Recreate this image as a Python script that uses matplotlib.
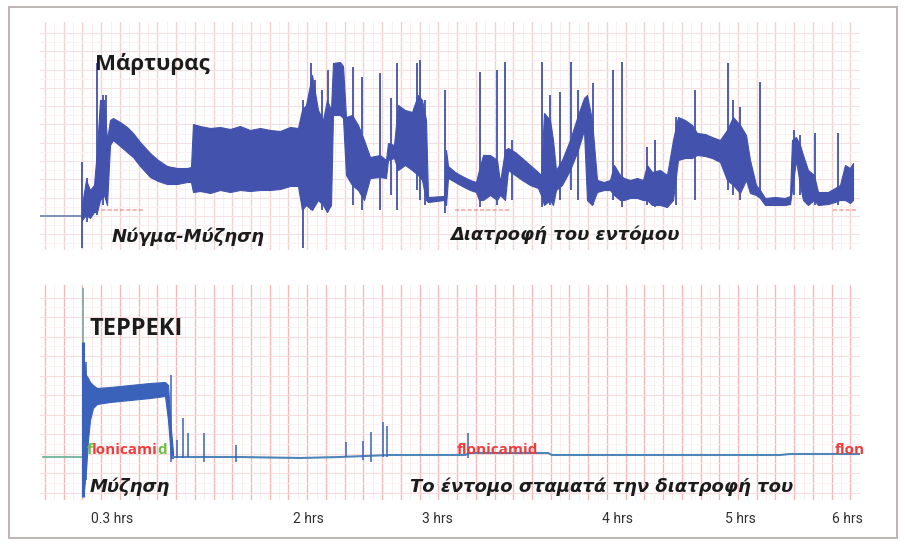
import numpy as np
import matplotlib.pyplot as plt
from matplotlib.patches import Rectangle

# EPG recordings (x = recording position, y = trace level, screen units)

# --- top trace (control insect): band envelope (x, upper, lower) ---
top_x = [82, 86, 90, 94, 97, 100, 104, 107, 110, 113, 120, 127, 133, 140, 150, 158, 167, 177, 187, 191,
         193, 200, 210, 220, 230, 240, 250, 260, 270, 280, 290, 298, 302, 306, 312, 318, 323, 327, 331,
         333, 340, 343, 346, 352, 358, 364, 370, 380, 386, 388, 394, 398, 405, 412, 418, 422, 426, 428,
         444, 446, 448, 455, 462, 470, 476, 479, 483, 490, 497, 500, 505, 508, 515, 522, 530, 538, 541,
         544, 550, 553, 556, 562, 570, 578, 584, 587, 592, 597, 604, 610, 614, 620, 624, 630, 637, 643,
         647, 652, 660, 667, 673, 678, 685, 692, 697, 705, 712, 720, 727, 733, 740, 746, 750, 756, 760,
         765, 775, 785, 790, 792, 796, 800, 803, 808, 814, 818, 828, 835, 840, 845, 850, 853]
top_hi = [205, 180, 190, 185, 150, 100, 100, 140, 120, 118, 122, 127, 133, 142, 153, 160, 166, 168, 168, 167,
          124, 126, 128, 127, 129, 126, 130, 128, 130, 131, 127, 128, 110, 105, 75, 110, 120, 100, 110,
          63, 62, 66, 117, 115, 125, 140, 157, 155, 160, 143, 145, 105, 110, 112, 95, 100, 120, 197,
          196, 150, 166, 172, 176, 180, 182, 170, 155, 155, 160, 182, 150, 148, 152, 158, 165, 172, 175,
          113, 120, 140, 170, 160, 140, 115, 98, 95, 120, 180, 182, 180, 165, 175, 178, 180, 178, 180,
          165, 172, 170, 175, 140, 117, 120, 125, 133, 134, 137, 140, 130, 117, 125, 135, 160, 185, 190,
          198, 197, 198, 196, 140, 137, 145, 155, 170, 175, 192, 192, 188, 185, 165, 168, 163]
top_lo = [220, 215, 218, 212, 212, 200, 195, 205, 145, 140, 146, 152, 157, 166, 177, 181, 184, 184, 182, 182,
          192, 191, 193, 190, 192, 190, 191, 190, 190, 189, 186, 186, 210, 205, 210, 200, 205, 212, 205,
          115, 115, 118, 175, 185, 190, 200, 178, 177, 178, 160, 158, 170, 165, 170, 175, 180, 200, 202,
          200, 205, 178, 182, 186, 190, 192, 200, 200, 195, 200, 195, 200, 170, 175, 180, 185, 188, 195,
          205, 200, 205, 190, 185, 170, 150, 130, 200, 205, 192, 190, 190, 195, 200, 200, 198, 198, 200,
          200, 205, 205, 207, 200, 160, 158, 158, 155, 156, 158, 162, 180, 185, 193, 180, 193, 195, 198,
          205, 205, 205, 204, 190, 160, 185, 200, 205, 200, 205, 204, 202, 200, 200, 203, 200]

# spikes of the top trace (x, peak, trough)
top_spike_x = [82, 87, 97, 103, 106, 303, 311, 315, 322, 328, 353, 362, 380, 391, 397, 417, 420, 425, 445,
               480, 497, 505, 512, 542, 550, 560, 571, 578, 593, 613, 622, 647, 655, 676, 695, 728, 733,
               740, 760, 794, 800, 815, 838]
top_spike_hi = [162, 178, 63, 95, 95, 100, 63, 80, 90, 70, 67, 77, 73, 98, 63, 63, 60, 100, 90,
                72, 70, 62, 140, 62, 95, 92, 62, 90, 83, 70, 62, 147, 140, 117, 90, 63, 100,
                107, 82, 130, 135, 133, 133]
top_spike_lo = [248, 222, 215, 205, 200, 248, 210, 205, 210, 212, 205, 210, 210, 195, 210, 190, 200, 205, 213,
                207, 205, 200, 200, 207, 205, 200, 190, 200, 205, 200, 207, 205, 207, 205, 200, 190, 195,
                200, 198, 195, 195, 205, 205]

top_base_x = [40, 82]
top_base_y = [216, 216]

# --- bottom trace (TEPPEKI): feeding block then flat line ---
bot_x = [84, 86, 88, 90, 93, 97, 110, 130, 150, 165, 168, 171, 173]
bot_hi = [360, 375, 378, 382, 385, 388, 387, 385, 383, 382, 385, 430, 452]
bot_lo = [490, 470, 440, 420, 408, 404, 402, 400, 398, 396, 420, 458, 458]

bot_line_x = [173, 240, 300, 340, 390, 465, 470, 548, 552, 780, 790, 863]
bot_line_y = [457, 457, 458, 457, 455, 455, 453, 453, 455, 455, 454, 454]

bot_spike_x = [86, 171, 177, 183, 188, 204, 236, 346, 363, 371, 383, 387, 468]
bot_spike_hi = [362, 375, 440, 418, 433, 433, 445, 442, 441, 432, 422, 426, 433]
bot_spike_lo = [480, 462, 458, 458, 457, 462, 462, 457, 460, 462, 457, 457, 458]

tick_pos = [112, 308, 437, 617, 740, 847]
tick_labels = ['0.3 hrs', '2 hrs', '3 hrs', '4 hrs', '5 hrs', '6 hrs']

W, H = 905, 544
fig = plt.figure(figsize=(W / 100, H / 100), dpi=100)
fig.patch.set_facecolor('white')
fig.patches.append(Rectangle((9 / W, 1 - 538 / H), 888 / W, 531 / H, transform=fig.transFigure,
                             fill=False, edgecolor='#b8b0ae', lw=1.3))

ax1 = fig.add_axes([40 / W, 1 - 250 / H, 820 / W, 228 / H])
ax2 = fig.add_axes([40 / W, 1 - 500 / H, 820 / W, 215 / H])
ax1.set_xlim(40, 860)
ax1.set_ylim(250, 22)
ax2.set_xlim(40, 860)
ax2.set_ylim(500, 285)

grid_x = 45 + 18.73 * np.arange(44)
for ax, gy, vcol, hcol in [(ax1, 33 + 18.3 * np.arange(13), '#f2d3d3', '#f4e0e0'),
                           (ax2, 298 + 19.5 * np.arange(11), '#f6b9bb', '#fadcdc')]:
    for gx in grid_x:
        ax.axvline(gx, color=vcol, lw=1.0, zorder=0)
        ax.axvline(gx + 9.36, color='#fbecec', lw=0.6, zorder=0)
    for y in gy:
        ax.axhline(y, color=hcol, lw=0.8, zorder=0)
        ax.axhline(y + 9.2, color='#fcf0f0', lw=0.6, zorder=0)
    ax.axis('off')

# top trace
blue = '#4352ad'
ax1.plot(top_base_x, top_base_y, color='#7f8fb8', lw=1.4, zorder=2)
for seg in [(95, 145), (455, 510), (833, 856)]:
    ax1.plot(seg, [210, 210], color='#f08a80', lw=1.5, ls=(0, (2, 1)), alpha=0.6, zorder=1)
ax1.fill_between(top_x, top_hi, top_lo, color=blue, lw=0.8, edgecolor=blue, zorder=3)
ax1.vlines(top_spike_x, top_spike_hi, top_spike_lo, color=blue, lw=1.3, zorder=3)

# bottom trace
blue2 = '#3b62bb'
ax2.plot([43, 83], [457, 457], color='#6fb49a', lw=1.3, zorder=2)
ax2.vlines([83], [288], [497], color='#7aa9a0', lw=1.2, zorder=2)
ax2.vlines([83], [342], [497], color=blue2, lw=2.2, zorder=3)
ax2.fill_between(bot_x, bot_hi, bot_lo, color=blue2, lw=0.8, edgecolor=blue2, zorder=3)
ax2.plot(bot_line_x, bot_line_y, color='#4f86b9', lw=1.5, zorder=3)
ax2.vlines(bot_spike_x, bot_spike_hi, bot_spike_lo, color=blue2, lw=1.1, zorder=3)

fam = ['Open Sans', 'DejaVu Sans']
ifam = ['DejaVu Sans']
dark = '#1c1c1c'
ax1.text(95, 70, 'Μάρτυρας', family=fam, weight='bold', fontsize=16, color=dark, zorder=5)
ax1.text(112, 242, 'Νύγμα-Μύζηση', family=ifam, weight='bold', style='italic', fontsize=13,
         color=dark, zorder=5)
ax1.text(450, 240, 'Διατροφή του εντόμου', family=ifam, weight='bold', style='italic', fontsize=13,
         color=dark, zorder=5)
ax2.text(90, 335, 'TEPPEKI', family=fam, weight='bold', fontsize=17, color=dark, zorder=5)
ax2.text(90, 492, 'Μύζηση', family=ifam, weight='bold', style='italic', fontsize=13, color=dark, zorder=5)
ax2.text(410, 492, 'Το έντομο σταματά την διατροφή του', family=ifam, weight='bold', style='italic',
         fontsize=13, color=dark, zorder=5)

# first "flonicamid" has green first and last letters
red, green = '#ee3b3b', '#6cbd45'
lab = dict(family=fam, weight='bold', fontsize=11, zorder=5)
t = ax2.text(87, 454, 'f', color=green, **lab)
t = ax2.annotate('lonicami', xycoords=t, xy=(1, 0), va='bottom', color=red,
                 xytext=(-0.6, 0), textcoords='offset points', **lab)
ax2.annotate('d', xycoords=t, xy=(1, 0), va='bottom', color=green,
             xytext=(-0.6, 0), textcoords='offset points', **lab)
ax2.text(457, 454, 'flonicamid', color=red, **lab)
ax2.text(835, 454, 'flon', color=red, **lab)

for x, s in zip(tick_pos, tick_labels):
    ax2.text(x, 523, s, ha='center', family=['Roboto', 'DejaVu Sans'],
             fontsize=10, color='#303030', clip_on=False)

fig.savefig('out.png', dpi=100)
